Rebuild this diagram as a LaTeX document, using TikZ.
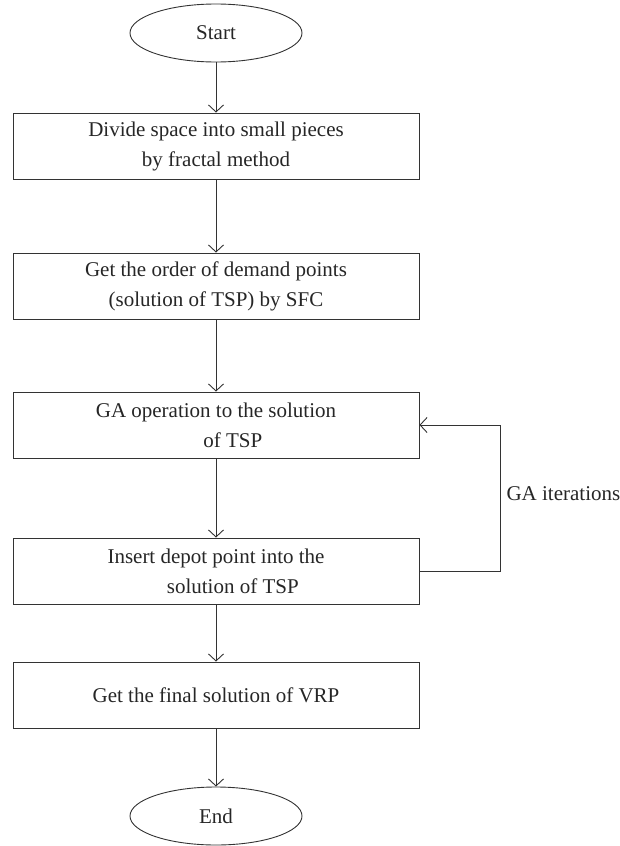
\documentclass[tikz,border=0pt]{standalone}
\usepackage{fontspec}
\setmainfont{Liberation Serif}
\usepackage{tikz}
\usetikzlibrary{arrows.meta, shapes.geometric}

\begin{document}
\begin{tikzpicture}[x=1pt, y=-1pt,
  every node/.style={font=\fontsize{21}{30}\selectfont, text=black!85},
  >={Straight Barb[length=7pt, width=15pt]},
  stepbox/.style={draw=black!80, line width=0.9pt, rectangle, minimum width=406pt, minimum height=66pt, align=center, inner sep=0pt},
  term/.style={draw=black!80, line width=0.9pt, ellipse, minimum width=172pt, minimum height=58pt, inner sep=0pt},
  flow/.style={draw=black!80, line width=0.9pt}]
  \useasboundingbox (0,0) rectangle (619,846);

  % Terminals
  \node[term] (start) at (216,33)  {Start};
  \node[term] (end)   at (216,816) {End};

  % Steps
  \node[stepbox] (divide) at (216,146) {Divide space into small pieces\\by fractal method};
  \node[stepbox] (order)  at (216,286) {Get the order of demand points\\(solution of TSP) by SFC};
  \node[stepbox] (ga)     at (216,425) {GA operation to the solution\\\hspace*{1.6em}of TSP};
  \node[stepbox] (insert) at (216,571) {Insert depot point into the\\\hspace*{1.6em}solution of TSP};
  \node[stepbox] (final)  at (216,695) {Get the final solution of VRP};

  \draw[flow, ->] (start) -- (divide);
  \draw[flow, ->] (divide) -- (order);
  \draw[flow, ->] (order) -- (ga);
  \draw[flow, ->] (ga) -- (insert);
  \draw[flow, ->] (insert) -- (final);
  \draw[flow, ->] (final) -- (end);

  % Loop
  \draw[flow, ->] (insert.east) -- ++(81,0) |- (ga.east);
  \node[anchor=west] (iter) at (503,494) {GA iterations};
\end{tikzpicture}
\end{document}
